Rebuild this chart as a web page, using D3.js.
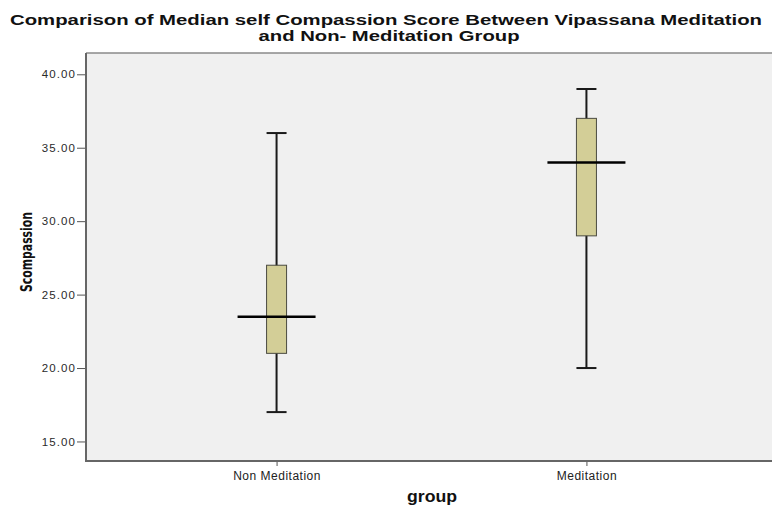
<!DOCTYPE html>
<html>
<head>
<meta charset="utf-8">
<script src="https://cdn.jsdelivr.net/npm/d3@7.9.0/dist/d3.min.js"></script>
<style>
  body { margin: 0; background: #fff; }
  svg { display: block; font-family: "Liberation Sans", Arial, sans-serif; }
</style>
</head>
<body>
<svg width="772" height="506"></svg>
<script>
// box plot values
const groups = ['Non Meditation', 'Meditation'];
const minVals = [17, 20];
const q1Vals = [21, 29];
const medianVals = [23.5, 34];
const q3Vals = [27, 37];
const maxVals = [36, 39];
const yTicks = [15, 20, 25, 30, 35, 40];

const svg = d3.select('svg');

const plot = { left: 86, right: 777, top: 53, bottom: 461 };

let y = d3.scaleLinear().domain([13.67, 41.45]).range([plot.bottom, plot.top]);
let x = d3.scalePoint().domain(groups).range([plot.left, plot.right]).padding(0.615);

// plot background
svg.append('rect')
    .attr('x', plot.left).attr('y', plot.top)
    .attr('width', plot.right - plot.left).attr('height', plot.bottom - plot.top)
    .attr('fill', '#f0f0f0');

svg.append('line')
    .attr('x1', plot.left).attr('x2', plot.right)
    .attr('y1', plot.top).attr('y2', plot.top)
    .attr('stroke', '#8a8a8a').attr('stroke-width', 1.5);

// y axis
let yAxis = svg.append('g')
    .attr('transform', `translate(${plot.left},0)`)
    .call(d3.axisLeft(y).tickValues(yTicks).tickFormat(d3.format('.2f')).tickSize(9).tickPadding(1));
yAxis.select('.domain').remove();
yAxis.selectAll('.tick line').attr('stroke', '#555');
yAxis.selectAll('.tick text')
    .attr('fill', '#2a2a2a')
    .style('font-size', '11.5px')
    .style('letter-spacing', '1.1px');

// x axis
let xAxis = svg.append('g')
    .attr('transform', `translate(0,${plot.bottom})`)
    .call(d3.axisBottom(x).tickSize(5).tickPadding(5));
xAxis.select('.domain').remove();
xAxis.selectAll('.tick line').attr('stroke', '#555');
xAxis.selectAll('.tick text')
    .attr('fill', '#222')
    .style('font-size', '12px')
    .style('letter-spacing', '0.5px');

// axis frame lines
svg.append('line')
    .attr('x1', plot.left).attr('x2', plot.left)
    .attr('y1', plot.top).attr('y2', plot.bottom + 1)
    .attr('stroke', '#666').attr('stroke-width', 2);
svg.append('line')
    .attr('x1', plot.left).attr('x2', plot.right)
    .attr('y1', plot.bottom).attr('y2', plot.bottom)
    .attr('stroke', '#666').attr('stroke-width', 2);

// boxes, whiskers and medians
const boxW = 20, capW = 20, medW = 78;
groups.forEach((g, i) => {
    let cx = x(g);
    let box = svg.append('g');

    box.append('line')
        .attr('x1', cx).attr('x2', cx)
        .attr('y1', y(maxVals[i])).attr('y2', y(minVals[i]))
        .attr('stroke', '#1a1a1a').attr('stroke-width', 2);

    [minVals[i], maxVals[i]].forEach(v => {
        box.append('line')
            .attr('x1', cx - capW / 2).attr('x2', cx + capW / 2)
            .attr('y1', y(v)).attr('y2', y(v))
            .attr('stroke', '#1a1a1a').attr('stroke-width', 2);
    });

    box.append('rect')
        .attr('x', cx - boxW / 2).attr('y', y(q3Vals[i]))
        .attr('width', boxW).attr('height', y(q1Vals[i]) - y(q3Vals[i]))
        .attr('fill', '#d3ce97')
        .attr('stroke', '#4a4a40').attr('stroke-width', 1);

    box.append('line')
        .attr('x1', cx - medW / 2).attr('x2', cx + medW / 2)
        .attr('y1', y(medianVals[i])).attr('y2', y(medianVals[i]))
        .attr('stroke', '#000').attr('stroke-width', 2.5);
});

// title, two lines
const title = svg.append('text')
    .attr('text-anchor', 'middle')
    .attr('font-weight', 'bold')
    .style('font-size', '14px')
    .attr('fill', '#111');
title.append('tspan')
    .attr('x', 386).attr('y', 25)
    .attr('textLength', 752).attr('lengthAdjust', 'spacingAndGlyphs')
    .text('Comparison of Median self Compassion Score Between Vipassana Meditation');
title.append('tspan')
    .attr('x', 389).attr('y', 41)
    .attr('textLength', 261).attr('lengthAdjust', 'spacingAndGlyphs')
    .text('and Non- Meditation Group');

// axis titles
svg.append('text')
    .attr('transform', 'translate(32,252) rotate(-90)')
    .attr('text-anchor', 'middle')
    .attr('font-weight', 'bold')
    .style('font-family', '"Liberation Sans Narrow", "DejaVu Sans Condensed", sans-serif')
    .style('font-size', '15px')
    .attr('textLength', 80).attr('lengthAdjust', 'spacingAndGlyphs')
    .attr('fill', '#111')
    .text('Scompassion');

svg.append('text')
    .attr('x', 432).attr('y', 502)
    .attr('text-anchor', 'middle')
    .attr('font-weight', 'bold')
    .style('font-size', '16px')
    .attr('textLength', 50).attr('lengthAdjust', 'spacingAndGlyphs')
    .attr('fill', '#111')
    .text('group');
</script>
</body>
</html>
